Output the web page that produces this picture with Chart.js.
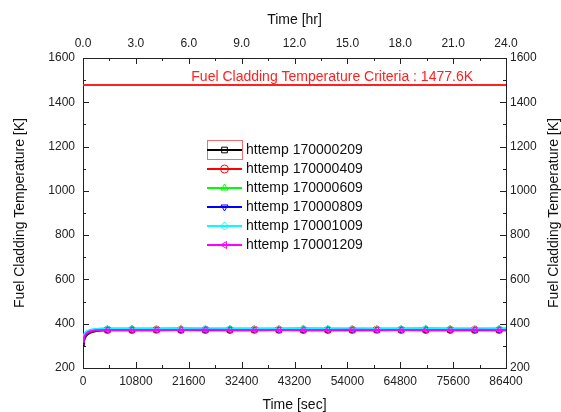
<!DOCTYPE html>
<html>
<head>
<meta charset="utf-8">
<script src="https://cdn.jsdelivr.net/npm/chart.js@4.4.0/dist/chart.umd.min.js"></script>
<style>
  html, body { margin: 0; padding: 0; background: #fff; }
  #wrap { width: 561px; height: 412px; }
</style>
</head>
<body>
<div id="wrap"><canvas id="tempChart" width="561" height="412"></canvas></div>
<script>
// time points [sec]
var times = [0, 150, 300, 600, 1000, 1500, 2500, 3500,
  5000, 10000, 15000, 20000, 25000, 30000, 35000, 40000, 45000,
  50000, 55000, 60000, 65000, 70000, 75000, 80000, 85000, 86400];

var seriesNames = ['httemp 170000209', 'httemp 170000409', 'httemp 170000609',
  'httemp 170000809', 'httemp 170001009', 'httemp 170001209'];

var t209 = [300, 318, 330, 344, 353, 360, 366, 369,
  371, 371, 371, 372, 371, 371, 371, 372, 371, 371, 371, 371, 372, 371, 371, 371, 371, 371];
var t409 = [310, 326, 337, 349, 357, 363, 368, 371,
  372, 372, 373, 372, 372, 372, 373, 372, 372, 372, 372, 373, 372, 372, 372, 372, 372, 372];
var t609 = [315, 332, 343, 355, 363, 369, 374, 377,
  378, 378, 378, 379, 378, 378, 378, 378, 379, 378, 378, 378, 378, 379, 378, 378, 378, 378];
var t809 = [312, 328, 340, 351, 359, 365, 370, 372,
  373, 373, 374, 373, 373, 373, 373, 374, 373, 373, 373, 374, 373, 373, 373, 373, 373, 373];
var t1009 = [335, 348, 356, 364, 369, 373, 376, 377,
  377, 377, 377, 378, 377, 377, 377, 377, 378, 377, 377, 377, 377, 378, 377, 377, 377, 377];
var t1209 = [318, 333, 343, 354, 361, 366, 370, 371,
  372, 372, 372, 372, 373, 372, 372, 372, 372, 372, 373, 372, 372, 372, 372, 373, 372, 372];

var criteriaValue = 1477.6;
var criteriaLabel = 'Fuel Cladding Temperature Criteria : 1477.6K';
var yTitle = 'Fuel Cladding Temperature [K]';

var xTicksSec = { min: 0, max: 86400, step: 5400, labelEvery: 10800 };
var xTicksHr = { min: 0, max: 24, step: 1.5, labelEvery: 3 };
var yTicks = { min: 200, max: 1600, step: 100, labelEvery: 200 };

var colors = ['#000000', '#ff0000', '#00ff00', '#0000ff', '#00ffff', '#ff00ff'];
var markers = [['rect', 0], ['circle', 0], ['triangle', 0], ['triangle', 180], ['rectRot', 0], ['triangle', -90]];

var allSeries = [t209, t409, t609, t809, t1009, t1209];

function toPoints(vals) {
  return times.map(function(t, i) { return { x: t, y: vals[i] }; });
}

// markers only every 5000 s, like the original plot
function markerRadius(ctx) {
  var t = times[ctx.dataIndex];
  return (t > 0 && t % 5000 === 0) ? 3.5 : 0;
}

var datasets = allSeries.map(function(vals, i) {
  return {
    label: seriesNames[i],
    data: toPoints(vals),
    order: allSeries.length - i,   // last series ends up on top
    borderColor: colors[i],
    backgroundColor: 'rgba(0,0,0,0)',
    borderWidth: 2,
    pointStyle: markers[i][0],
    pointRotation: markers[i][1],
    pointRadius: markerRadius,
    pointBorderWidth: 1,
    pointBorderColor: colors[i],
    pointBackgroundColor: 'rgba(0,0,0,0)',
    tension: 0,
    xAxisID: 'x',
    yAxisID: 'y'
  };
});

datasets.push({
  label: 'criteria',
  data: [{ x: xTicksSec.min, y: criteriaValue }, { x: xTicksSec.max, y: criteriaValue }],
  order: 20,
  borderColor: '#ff2020',
  borderWidth: 2,
  pointRadius: 0,
  xAxisID: 'x',
  yAxisID: 'y'
});

function labelCb(every, digits) {
  return function(value) {
    var r = value / every;
    if (Math.abs(r - Math.round(r)) > 1e-6) return '';
    return digits === undefined ? String(Math.round(value)) : value.toFixed(digits);
  };
}

var font12 = { family: 'Liberation Sans, Arial, sans-serif', size: 12 };
var titleFont = { family: 'Liberation Sans, Arial, sans-serif', size: 14 };

// inward tick marks on all four sides
var inwardTicks = {
  id: 'inwardTicks',
  afterDraw: function(chart) {
    var ctx = chart.ctx;
    var a = chart.chartArea;
    ctx.save();
    ctx.strokeStyle = '#222';
    ctx.lineWidth = 1;
    ['x', 'x2', 'y', 'y2'].forEach(function(id) {
      var s = chart.scales[id];
      s.ticks.forEach(function(tk, i) {
        var p = Math.round(s.getPixelForTick(i)) + 0.5;
        var len = tk.label === '' ? 3 : 6;
        ctx.beginPath();
        if (id === 'x') { ctx.moveTo(p, a.bottom); ctx.lineTo(p, a.bottom - len); }
        if (id === 'x2') { ctx.moveTo(p, a.top); ctx.lineTo(p, a.top + len); }
        if (id === 'y') { ctx.moveTo(a.left, p); ctx.lineTo(a.left + len, p); }
        if (id === 'y2') { ctx.moveTo(a.right, p); ctx.lineTo(a.right - len, p); }
        ctx.stroke();
      });
    });
    ctx.restore();
  }
};

// criteria text, right axis title and legend drawn by hand
var overlay = {
  id: 'overlay',
  afterDraw: function(chart) {
    var ctx = chart.ctx;
    var a = chart.chartArea;
    var yPix = chart.scales.y.getPixelForValue(criteriaValue);
    ctx.save();
    ctx.fillStyle = '#ff2020';
    ctx.font = '14px Liberation Sans, Arial, sans-serif';
    ctx.textAlign = 'right';
    ctx.textBaseline = 'alphabetic';
    ctx.fillText(criteriaLabel, a.right - 33, yPix - 4);

    // right title reads bottom-to-top like the left one
    ctx.save();
    ctx.translate(554, (a.top + a.bottom) / 2);
    ctx.rotate(-Math.PI / 2);
    ctx.fillStyle = '#111';
    ctx.textAlign = 'center';
    ctx.textBaseline = 'middle';
    ctx.fillText(yTitle, 0, 0);
    ctx.restore();

    var lx = 207, ly = 150, row = 19, lineLen = 35;
    ctx.strokeStyle = '#f07070';
    ctx.lineWidth = 1;
    ctx.strokeRect(lx + 0.5, ly - 9.5, lineLen, 19);
    for (var i = 0; i < seriesNames.length; i++) {
      var y = ly + i * row;
      ctx.strokeStyle = colors[i];
      ctx.lineWidth = 2;
      ctx.beginPath();
      ctx.moveTo(lx, y);
      ctx.lineTo(lx + lineLen, y);
      ctx.stroke();
      ctx.lineWidth = 1;
      ctx.fillStyle = 'rgba(0,0,0,0)';
      Chart.helpers.drawPoint(ctx, {
        pointStyle: markers[i][0], rotation: markers[i][1], radius: 4, borderWidth: 1
      }, lx + lineLen / 2, y);
      ctx.fillStyle = '#111';
      ctx.font = '14px Liberation Sans, Arial, sans-serif';
      ctx.textAlign = 'left';
      ctx.textBaseline = 'middle';
      ctx.fillText(seriesNames[i], lx + lineLen + 4, y + 0.5);
    }
    ctx.restore();
  }
};

var ctx = document.getElementById('tempChart').getContext('2d');
var tempChart = new Chart(ctx, {
  type: 'line',
  data: { datasets: datasets },
  options: {
    responsive: false,
    animation: false,
    layout: { padding: 0 },
    plugins: { legend: { display: false }, tooltip: { enabled: false } },
    scales: {
      x: {
        type: 'linear', position: 'bottom',
        min: xTicksSec.min, max: xTicksSec.max,
        afterFit: function(s) { s.height = 44; },
        grid: { display: false, drawTicks: false },
        border: { color: '#222', width: 1 },
        ticks: { stepSize: xTicksSec.step, autoSkip: false, maxRotation: 0, padding: 6,
          color: '#222', font: font12, callback: labelCb(xTicksSec.labelEvery) },
        title: { display: true, text: 'Time [sec]', color: '#111',
          font: { family: 'Liberation Sans, Arial, sans-serif', size: 14, lineHeight: 1 }, padding: { top: 0, bottom: 0 } }
      },
      x2: {
        type: 'linear', position: 'top',
        min: xTicksHr.min, max: xTicksHr.max,
        afterFit: function(s) { s.height = 58; },
        grid: { display: false, drawTicks: false },
        border: { color: '#222', width: 1 },
        ticks: { stepSize: xTicksHr.step, autoSkip: false, maxRotation: 0, padding: 7,
          color: '#222', font: font12, callback: labelCb(xTicksHr.labelEvery, 1) },
        title: { display: true, text: 'Time [hr]', color: '#111', font: titleFont, padding: { top: 12, bottom: 0 } }
      },
      y: {
        type: 'linear', position: 'left',
        min: yTicks.min, max: yTicks.max,
        afterFit: function(s) { s.width = 83; },
        grid: { display: false, drawTicks: false },
        border: { color: '#222', width: 1 },
        ticks: { stepSize: yTicks.step, autoSkip: false, padding: 8,
          color: '#222', font: font12, callback: labelCb(yTicks.labelEvery) },
        title: { display: true, text: yTitle, color: '#111', font: titleFont, padding: { top: 12, bottom: 0 } }
      },
      y2: {
        type: 'linear', position: 'right',
        min: yTicks.min, max: yTicks.max,
        afterFit: function(s) { s.width = 55; },
        grid: { display: false, drawTicks: false },
        border: { color: '#222', width: 1 },
        ticks: { stepSize: yTicks.step, autoSkip: false, padding: 4,
          color: '#222', font: font12, callback: labelCb(yTicks.labelEvery) },
        title: { display: false }
      }
    }
  },
  plugins: [inwardTicks, overlay]
});
</script>
</body>
</html>
